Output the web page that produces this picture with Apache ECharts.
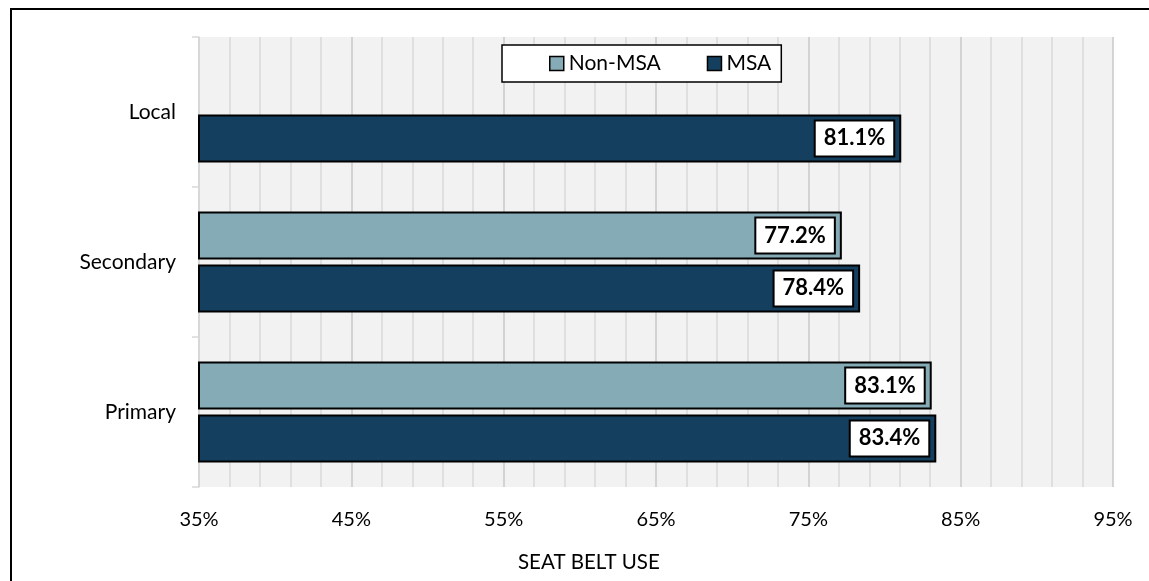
<!DOCTYPE html>
<html>
<head>
<meta charset="utf-8">
<script src="https://cdn.jsdelivr.net/npm/echarts@6/dist/echarts.min.js"></script>
<style>
  html, body { margin: 0; padding: 0; background: #fff; overflow: hidden; }
  #frame { position: absolute; left: 10px; top: 8px; width: 1200px; height: 640px; border-left: 2px solid #000; border-top: 2px solid #000; }
  #main { position: absolute; left: 0; top: 0; width: 1149px; height: 581px; }
</style>
</head>
<body>
<div id="frame"></div>
<div id="main"></div>
<script>
// 数据
var categories = ["Primary", "Secondary", "Local"];
var nonMsa = [83.1, 77.2, null];
var msa = [83.4, 78.4, 81.1];
var xTicks = [35, 45, 55, 65, 75, 85, 95];

var font = "Lato";

// 数据标签: 白底黑框
var barLabel = {
  show: true,
  position: "insideRight",
  distance: 8,
  formatter: function(p) {
    return p.value.toFixed(1) + "%";
  },
  color: "#000",
  fontFamily: font,
  fontWeight: "bold",
  fontSize: 22,
  backgroundColor: "#fff",
  borderColor: "#000",
  borderWidth: 2,
  padding: [7, 8, 5, 8]
};

var myChart = echarts.init(document.getElementById("main"));
var option = {
  animation: false,
  title: {
    text: "SEAT BELT USE",
    left: 513,
    top: 547,
    textStyle: { fontFamily: font, fontSize: 20.5, fontWeight: "normal", color: "#000" }
  },
  legend: {
    left: 502,
    top: 45,
    data: ["Non-MSA", "MSA"],
    backgroundColor: "#fff",
    borderColor: "#000",
    borderWidth: 1.5,
    padding: [8, 10, 8, 47],
    itemGap: 46,
    itemWidth: 14,
    itemHeight: 14,
    icon: "rect",
    itemStyle: { borderColor: "#000", borderWidth: 1.5 },
    textStyle: { fontFamily: font, fontSize: 21, color: "#000" }
  },
  grid: {
    left: 199,
    right: 36,
    top: 37,
    bottom: 94,
    show: true,
    backgroundColor: "#f2f2f2",
    borderWidth: 0
  },
  xAxis: {
    type: "value",
    min: xTicks[0],
    max: xTicks[xTicks.length - 1],
    interval: 10,
    axisLine: { show: false },
    axisTick: { show: false },
    axisLabel: {
      margin: 23,
      fontFamily: font,
      fontSize: 20,
      color: "#000",
      formatter: "{value}%"
    },
    splitLine: { show: true, lineStyle: { color: "#c9c9c9", width: 1.5 } },
    minorTick: { show: false, splitNumber: 5 },
    minorSplitLine: { show: true, lineStyle: { color: "#d9d9d9", width: 1.5 } }
  },
  yAxis: {
    type: "category",
    data: categories,
    axisLine: { show: true, lineStyle: { color: "#d9d9d9", width: 1.5 } },
    axisTick: { show: true, length: 7, lineStyle: { color: "#d9d9d9", width: 1.5 } },
    axisLabel: { margin: 23, fontFamily: font, fontSize: 21, color: "#000" }
  },
  series: [
    {
      name: "Non-MSA",
      type: "bar",
      data: nonMsa,
      barWidth: 48,
      barGap: "10%",
      itemStyle: { color: "#85abb6", borderColor: "#000", borderWidth: 2 },
      label: barLabel
    },
    {
      name: "MSA",
      type: "bar",
      data: msa,
      barWidth: 48,
      barGap: "10%",
      itemStyle: { color: "#143f5f", borderColor: "#000", borderWidth: 2 },
      label: barLabel
    }
  ]
};
myChart.setOption(option);
</script>
</body>
</html>
